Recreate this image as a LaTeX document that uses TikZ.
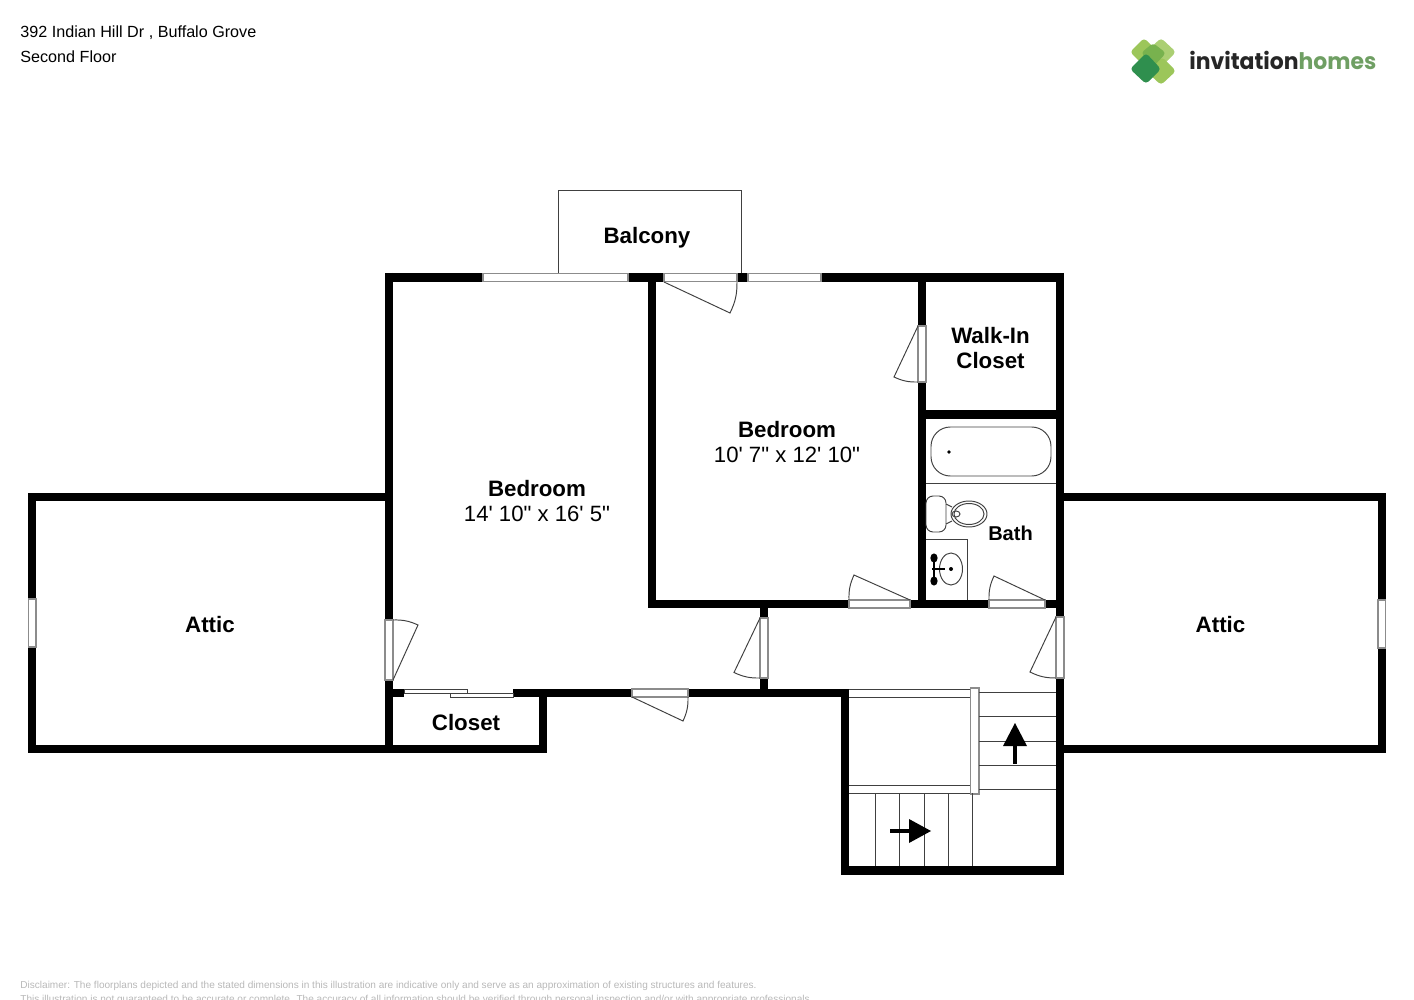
\documentclass[tikz,border=0pt]{standalone}
\usepackage{fontspec}
\setmainfont{Liberation Sans}
\newfontfamily\plainfont{Liberation Sans}
\newfontfamily\logofont{Poppins}
\definecolor{winedge}{gray}{0.55}
\definecolor{thinline}{gray}{0.25}
\definecolor{notegray}{gray}{0.72}
\definecolor{logolight}{HTML}{9CC65A}
\definecolor{logomid}{HTML}{78B24E}
\definecolor{logodark}{HTML}{2F8F4E}
\definecolor{logohomes}{HTML}{6F9F63}
\tikzset{
    wall/.style = {line width=4.6pt},
    gap/.style = {fill=white, draw=winedge, line width=0.6pt},
    thin line/.style = {draw=thinline, line width=0.55pt},
    swing/.style = {bend right=13},
    room/.style = {font=\fontsize{12.7}{14.2}\selectfont\bfseries, align=center},
    size/.style = {font=\fontsize{12.6}{14.2}\plainfont},
    head/.style = {font=\fontsize{9.2}{11}\selectfont, anchor=west, inner sep=0pt},
    note/.style = {font=\fontsize{5.73}{6.5}\selectfont, anchor=west, inner sep=0pt, text=notegray},
    petal/.style = {rounded corners=2pt}
}
\begin{document}
\begin{tikzpicture}[x=0.02cm, y=-0.02cm]
\useasboundingbox ( 0, 0 ) rectangle ( 1414, 1000 );

% шапка
\node [head] (address) at ( 20, 32.5 ) {392 Indian Hill Dr , Buffalo Grove};
\node [head] (floor) at ( 20, 56.5 ) {Second Floor};

% логотип
\fill [petal, logolight] ( 1130, 52 ) -- ( 1144, 38 ) -- ( 1158, 52 ) -- ( 1144, 66 ) -- cycle;
\fill [petal, logolight!85!white] ( 1146, 52 ) -- ( 1161, 38 ) -- ( 1176, 52 ) -- ( 1161, 67 ) -- cycle;
\fill [petal, logolight] ( 1147, 72 ) -- ( 1162, 57 ) -- ( 1176, 71 ) -- ( 1161, 85 ) -- cycle;
\fill [petal, logomid] ( 1141, 53 ) -- ( 1153, 43 ) -- ( 1166, 53 ) -- ( 1154, 66 ) -- cycle;
\fill [petal, logodark] ( 1130, 69 ) -- ( 1146, 53 ) -- ( 1161, 69 ) -- ( 1146, 84 ) -- cycle;
\node [anchor=base west, inner sep=0pt, xscale=0.96] (logo) at ( 1189, 70 ) {\fontsize{13}{15}\logofont\bfseries\textcolor{black!85}{invitation}\textcolor{logohomes}{homes}};

% балкон
\draw [thin line] ( 558, 274 ) -- ( 558, 190 ) -- ( 741, 190 ) -- ( 741, 274 );

% наружные стены
\draw [wall] ( 385, 277.5 ) -- ( 1064, 277.5 );
\draw [wall] ( 389, 273 ) -- ( 389, 753 );
\draw [wall] ( 1060, 273 ) -- ( 1060, 875 );
\draw [wall] ( 841, 870.5 ) -- ( 1064, 870.5 );
\draw [wall] ( 845, 689 ) -- ( 845, 875 );
\draw [wall] ( 393, 693 ) -- ( 849, 693 );
\draw [wall] ( 543, 693 ) -- ( 543, 753 );

% чердаки
\draw [wall] ( 385, 497 ) -- ( 32, 497 ) -- ( 32, 749 ) -- ( 547, 749 );
\draw [wall] ( 1064, 497 ) -- ( 1382, 497 ) -- ( 1382, 749 ) -- ( 1064, 749 );

% внутренние стены
\draw [wall] ( 652, 277 ) -- ( 652, 608 );
\draw [wall] ( 648, 604 ) -- ( 1064, 604 );
\draw [wall] ( 764, 604 ) -- ( 764, 693 );
\draw [wall] ( 922, 277 ) -- ( 922, 604 );
\draw [wall] ( 922, 414.5 ) -- ( 1060, 414.5 );

% окна
\draw [gap] ( 483, 273.5 ) rectangle ( 628, 281.5 );
\draw [gap] ( 748, 273.5 ) rectangle ( 821, 281.5 );
\draw [gap] ( 28.5, 599 ) rectangle ( 36, 647 );
\draw [gap] ( 1378, 600 ) rectangle ( 1385.5, 648 );

% двери
\draw [gap] ( 664, 273.5 ) rectangle ( 737, 281.5 );
\draw [thin line] ( 664, 282 ) -- ( 730, 313 ) to [swing] ( 737, 282 );
\draw [gap] ( 918, 326 ) rectangle ( 926, 382 );
\draw [thin line] ( 918, 326 ) -- ( 894, 377 ) to [swing] ( 918, 382 );
\draw [gap] ( 385, 620 ) rectangle ( 393, 680 );
\draw [thin line] ( 393, 680 ) -- ( 418, 625 ) to [swing] ( 393, 620 );
\draw [gap] ( 632, 689 ) rectangle ( 688, 697 );
\draw [thin line] ( 632, 697 ) -- ( 683, 721 ) to [swing] ( 688, 697 );
\draw [gap] ( 760, 618 ) rectangle ( 768, 678 );
\draw [thin line] ( 760, 618 ) -- ( 734, 672.5 ) to [swing] ( 760, 678 );
\draw [gap] ( 1056, 617 ) rectangle ( 1064, 678 );
\draw [thin line] ( 1056, 617 ) -- ( 1030, 672 ) to [swing] ( 1056, 678 );
\draw [gap] ( 849, 600 ) rectangle ( 910, 608 );
\draw [thin line] ( 910, 600 ) -- ( 854, 575 ) to [swing] ( 849, 600 );
\draw [gap] ( 989, 600 ) rectangle ( 1045, 608 );
\draw [thin line] ( 1045, 600 ) -- ( 994, 576 ) to [swing] ( 989, 600 );

% раздвижная дверь кладовки
\fill [white] ( 404, 689 ) rectangle ( 513, 697 );
\draw [thin line, fill=white] ( 404, 689 ) rectangle ( 467, 693 );
\draw [thin line, fill=white] ( 450, 693 ) rectangle ( 513, 697 );

% ванна
\draw [thin line] ( 931, 427 ) [rounded corners=11pt] rectangle ( 1051, 476 );
\fill ( 949, 452 ) circle ( 1.9 );
\draw [thin line] ( 926, 483.5 ) -- ( 1056, 483.5 );

% унитаз
\draw [thin line, rounded corners=4pt] ( 926, 496 ) rectangle ( 946, 532 );
\draw [thin line] ( 946, 504 ) -- ( 952, 507 );
\draw [thin line] ( 946, 524 ) -- ( 952, 521 );
\draw [thin line] ( 969, 514 ) ellipse ( 18 and 13 );
\draw [thin line] ( 969, 514 ) ellipse ( 15 and 10.5 );
\draw [thin line] ( 956, 514 ) ellipse ( 4 and 3 );

% раковина
\draw [thin line] ( 926, 539 ) -- ( 967, 539 ) -- ( 967, 600 );
\draw [thin line] ( 951, 569 ) ellipse ( 11.5 and 16 );
\fill ( 951, 569 ) circle ( 2 );
\draw [line width=1pt] ( 934, 556 ) -- ( 934, 581 );
\draw [line width=1pt] ( 932, 569 ) -- ( 945, 569 );
\fill ( 934, 558 ) ellipse ( 3.6 and 4.6 );
\fill ( 934, 581 ) ellipse ( 3.6 and 4.6 );

% площадка
\draw [thin line] ( 849, 689 ) -- ( 971, 689 );
\draw [thin line] ( 849, 697 ) -- ( 971, 697 );
\draw [thin line] ( 849, 785 ) -- ( 971, 785 );
\draw [thin line] ( 849, 793 ) -- ( 971, 793 );
\draw [winedge, line width=0.6pt] ( 970.5, 688 ) rectangle ( 979, 794 );

% верхний марш
\draw [thin line] ( 979, 692 ) -- ( 1056, 692 );
\draw [thin line] ( 979, 716.5 ) -- ( 1056, 716.5 );
\draw [thin line] ( 979, 741 ) -- ( 1056, 741 );
\draw [thin line] ( 979, 765 ) -- ( 1056, 765 );
\draw [thin line] ( 979, 789.5 ) -- ( 1056, 789.5 );
\fill ( 1015, 723 ) -- ( 1027, 746 ) -- ( 1003, 746 ) -- cycle;
\draw [line width=1.9pt] ( 1015, 746 ) -- ( 1015, 764 );

% нижний марш
\draw [thin line] ( 875, 793 ) -- ( 875, 866 );
\draw [thin line] ( 899.5, 793 ) -- ( 899.5, 866 );
\draw [thin line] ( 924, 793 ) -- ( 924, 866 );
\draw [thin line] ( 948, 793 ) -- ( 948, 866 );
\draw [thin line] ( 972.5, 793 ) -- ( 972.5, 866 );
\fill ( 931, 831 ) -- ( 909, 819 ) -- ( 909, 843 ) -- cycle;
\draw [line width=1.9pt] ( 890, 831 ) -- ( 909, 831 );

% подписи
\node [room] (balcony) at ( 647, 238 ) {Balcony};
\node [room] (walkin) at ( 990.5, 348 ) {Walk-In\\Closet};
\node [room] (bedroomA) at ( 787, 429.5 ) {Bedroom};
\node [size] (sizeA) at ( 787, 455 ) {10' 7" x 12' 10"};
\node [room] (bedroomB) at ( 537, 488.5 ) {Bedroom};
\node [size] (sizeB) at ( 537, 514 ) {14' 10" x 16' 5"};
\node [room, font=\fontsize{11.4}{13}\selectfont\bfseries] (bath) at ( 1010.5, 533 ) {Bath};
\node [room] (atticL) at ( 210, 625 ) {Attic};
\node [room] (atticR) at ( 1220.5, 625 ) {Attic};
\node [room] (closet) at ( 466, 723 ) {Closet};

% оговорка
\node [note] (noteA) at ( 20, 985.5 ) {Disclaimer: The floorplans depicted and the stated dimensions in this illustration are indicative only and serve as an approximation of existing structures and features.};
\node [note] (noteB) at ( 20, 1000 ) {This illustration is not guaranteed to be accurate or complete. The accuracy of all information should be verified through personal inspection and/or with appropriate professionals.};
\end{tikzpicture}
\end{document}
